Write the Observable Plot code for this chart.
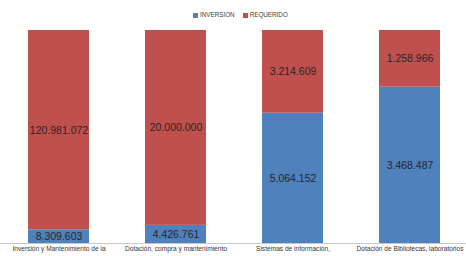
<!DOCTYPE html>
<html>
<head>
<meta charset="utf-8">
<script src="https://cdn.jsdelivr.net/npm/d3@7"></script>
<script src="https://cdn.jsdelivr.net/npm/@observablehq/plot@0.6"></script>
<style>
  html, body { margin: 0; padding: 0; background: #fff; }
  #wrap { position: relative; width: 466px; height: 256px; overflow: hidden; }
  #legend { position: absolute; top: 11px; left: 193px; font: 6.3px "Liberation Sans", Arial, sans-serif; color: #404040; white-space: nowrap; }
  #legend span.sw { display: inline-block; width: 5px; height: 5px; margin-right: 2px; vertical-align: -0.5px; }
  #legend span.item { margin-right: 8px; }
</style>
</head>
<body>
<div id="wrap"><div id="legend"></div></div>
<script>
const categories = [
  "Inversión y Mantenimiento de la",
  "Dotación, compra y mantenimiento",
  "Sistemas de información,",
  "Dotación de Bibliotecas, laboratorios"
];
const series = ["INVERSION", "REQUERIDO"];
// printed data labels
const inversionLabels = ["8.309.603", "4.426.761", "5.064.152", "3.468.487"];
const requeridoLabels = ["120.981.072", "20.000.000", "3.214.609", "1.258.966"];
// values as drawn (bar 2's red segment is drawn larger than its printed label)
const inversion = [8309603, 4426761, 5064152, 3468487];
const requerido = [120981072, 47600000, 3214609, 1258966];
const colors = ["#4F81BD", "#C0504D"];

const data = [];
categories.forEach((c, i) => {
  data.push({category: c, serie: series[0], value: inversion[i], label: inversionLabels[i]});
  data.push({category: c, serie: series[1], value: requerido[i], label: requeridoLabels[i]});
});

const stackOpts = {x: "category", y: "value", z: "serie", order: series, offset: "normalize"};

const chart = Plot.plot({
  width: 466,
  height: 256,
  marginTop: 30,
  marginBottom: 13,
  marginLeft: 0,
  marginRight: 0,
  style: {fontFamily: "Liberation Sans, Arial, sans-serif", background: "#fff"},
  x: {domain: categories, range: [-1.5, 468.5], paddingInner: 0.48, paddingOuter: 0.24, label: null, tickSize: 0, tickPadding: 3},
  y: {axis: null, domain: [0, 1]},
  color: {domain: series, range: colors},
  marks: [
    Plot.barY(data, Plot.stackY({...stackOpts, fill: "serie"})),
    Plot.ruleY([0], {stroke: "#c8c8c8"}),
    Plot.text(data, Plot.stackY({...stackOpts, text: "label", fill: "#262626", fontSize: 10.5})),
    Plot.axisX({tickSize: 0, tickPadding: 3, fontSize: 6.6, fill: "#333", label: null})
  ]
});

const wrap = document.getElementById("wrap");
wrap.insertBefore(chart, wrap.firstChild);

const legend = document.getElementById("legend");
series.forEach((s, i) => {
  const item = document.createElement("span");
  item.className = "item";
  const sw = document.createElement("span");
  sw.className = "sw";
  sw.style.background = colors[i];
  item.appendChild(sw);
  item.appendChild(document.createTextNode(s));
  legend.appendChild(item);
});
</script>
</body>
</html>
